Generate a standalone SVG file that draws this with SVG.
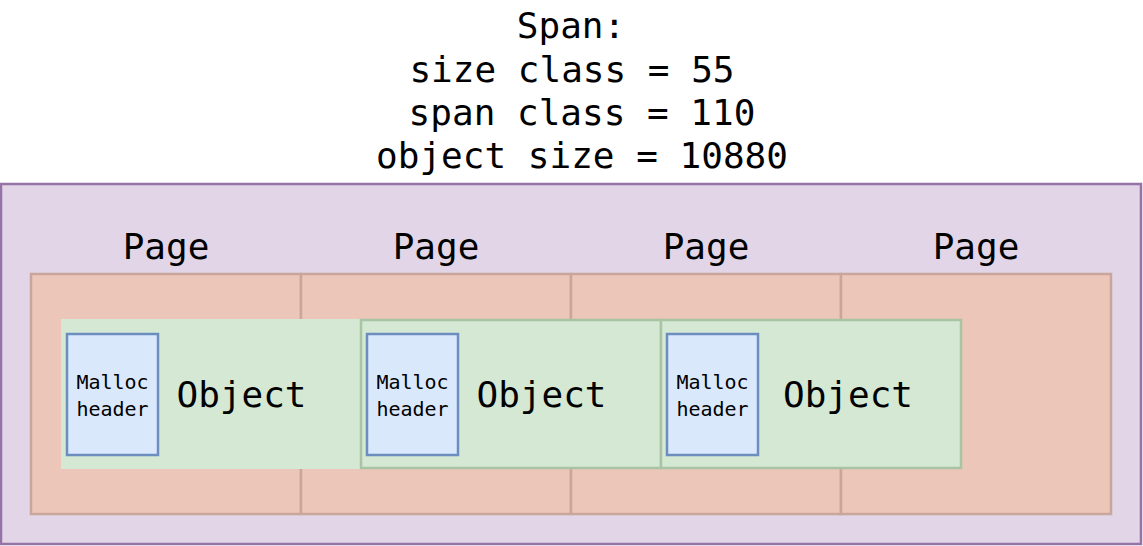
<svg xmlns="http://www.w3.org/2000/svg" width="1143" height="546" viewBox="0 0 1143 546">
<style>
text{font-family:"DejaVu Sans Mono","Liberation Mono",monospace;fill:#000;text-anchor:middle}
.title{font-size:36px}
.page{fill:#ecc6b9;stroke:#c9a69c;stroke-width:2.5}
.obj{fill:#d5e8d4;stroke:#a8c4a5;stroke-width:2.5}
.hdr{fill:#dae8fc;stroke:#6c8ebf;stroke-width:2.5}
.big{font-size:36px}
.small{font-size:20px}
</style>
<rect width="1143" height="546" fill="#fff"/>
<g id="title">
<text class="title" x="571" y="38">Span:</text>
<text class="title" x="572" y="82">size class = 55</text>
<text class="title" x="582" y="125">span class = 110</text>
<text class="title" x="582" y="168">object size = 10880</text>
</g>
<g id="span"><rect x="1" y="184" width="1140" height="360" fill="#e1d5e7" stroke="#9673a6" stroke-width="2.5"/></g>
<g id="page1"><rect class="page" x="31" y="274" width="270" height="240"/><text class="big" x="166" y="259">Page</text></g>
<g id="page2"><rect class="page" x="301" y="274" width="270" height="240"/><text class="big" x="436" y="259">Page</text></g>
<g id="page3"><rect class="page" x="571" y="274" width="270" height="240"/><text class="big" x="706" y="259">Page</text></g>
<g id="page4"><rect class="page" x="841" y="274" width="270" height="240"/><text class="big" x="976" y="259">Page</text></g>
<g id="object1"><rect x="61" y="319" width="300" height="150" fill="#d5e8d4"/><text class="big" x="241.5" y="407">Object</text></g>
<g id="object2"><rect class="obj" x="361" y="320" width="300" height="148"/><text class="big" x="541.5" y="407">Object</text></g>
<g id="object3"><rect class="obj" x="661" y="320" width="300" height="148"/><text class="big" x="848" y="407">Object</text></g>
<g id="header1"><rect class="hdr" x="67" y="334" width="91" height="121"/><text class="small" x="112.5" y="389">Malloc</text><text class="small" x="112.5" y="416">header</text></g>
<g id="header2"><rect class="hdr" x="367" y="334" width="91" height="121"/><text class="small" x="412.5" y="389">Malloc</text><text class="small" x="412.5" y="416">header</text></g>
<g id="header3"><rect class="hdr" x="667" y="334" width="91" height="121"/><text class="small" x="712.5" y="389">Malloc</text><text class="small" x="712.5" y="416">header</text></g>
<g id="connectors"></g>
</svg>
